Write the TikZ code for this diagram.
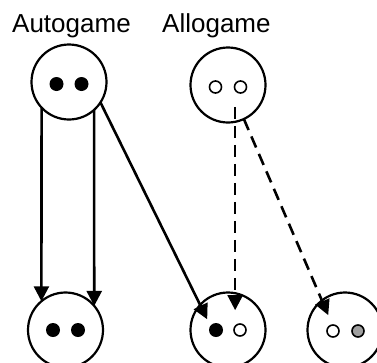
\documentclass[tikz,border=0pt]{standalone}
\usepackage{fontspec}
\setmainfont{Liberation Sans}
\usetikzlibrary{arrows.meta,automata,positioning}
\usepackage{xcolor}
\definecolor{dotgrey}{RGB}{160,160,160}

\begin{document}
\begin{tikzpicture}[>={Triangle[length=15pt,width=15pt]},x=1pt,y=-1pt]
  \tikzstyle{every state}=[draw=black,line width=2.2pt,minimum size=75pt,inner sep=0pt,outer sep=0pt]
  \tikzstyle{fulldot}=[circle,fill=black,minimum size=14pt,inner sep=0pt]
  \tikzstyle{opendot}=[circle,draw=black,line width=1.6pt,fill=white,minimum size=12pt,inner sep=0pt]
  \tikzstyle{greydot}=[opendot,fill=dotgrey]
  \tikzstyle{title}=[anchor=base west,inner sep=0pt,font=\fontsize{26pt}{30pt}\selectfont]
  \tikzstyle{solidarrow}=[->,draw=black,line width=2.6pt]
  \tikzstyle{dasharrow}=[solidarrow,dash pattern=on 12pt off 7pt]
  \clip (0,0) rectangle (377,362);

  \node[title] (autolbl) at (12,32) {Autogame};
  \node[title] (allolbl) at (162,32) {Allogame};

  \node[state] (top1) at (69,82)   {};
  \node[state] (top2) at (228,85)  {};
  \node[state] (bot1) at (65.5,330) {};
  \node[state] (bot2) at (228,330) {};
  \node[state] (bot3) at (345,330) {};

  \node[fulldot,xshift=-12.5pt,yshift=-2pt] (t1a) at (top1) {};
  \node[fulldot,xshift=12.5pt,yshift=-2pt]  (t1b) at (top1) {};
  \node[opendot,xshift=-12.5pt,yshift=-2pt] (t2a) at (top2) {};
  \node[opendot,xshift=12.5pt,yshift=-2pt]  (t2b) at (top2) {};
  \node[fulldot,xshift=-12.5pt] (b1a) at (bot1) {};
  \node[fulldot,xshift=12.5pt]  (b1b) at (bot1) {};
  \node[fulldot,xshift=-12pt]   (b2a) at (bot2) {};
  \node[opendot,xshift=12pt]    (b2b) at (bot2) {};
  \node[opendot,xshift=-12pt,yshift=-1pt] (b3a) at (bot3) {};
  \node[greydot,xshift=13pt,yshift=-1pt]  (b3b) at (bot3) {};

  \path (top1.223) edge [solidarrow] (bot1.130)
        (top1.312) edge [solidarrow] (bot1.40)
        (top1.327) edge [solidarrow,shorten >=-16pt] (bot2.138);
  \path (top2.281) edge [dasharrow,shorten <=-15pt,shorten >=-17pt] (bot2.79)
        (top2.295) edge [dasharrow,shorten >=-16pt] (bot3.128);
\end{tikzpicture}
\end{document}
